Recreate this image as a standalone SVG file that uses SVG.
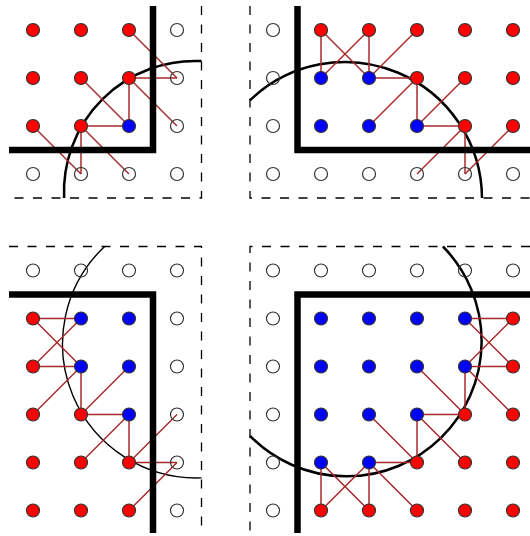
<svg xmlns="http://www.w3.org/2000/svg" width="530" height="536" viewBox="0 0 530 536">
<style>
.bg{fill:#fff}
.dash{fill:none;stroke:#000;stroke-width:1.3;stroke-dasharray:9 9.5}
.wall{fill:none;stroke:#000;stroke-width:6.5;stroke-linejoin:miter;stroke-linecap:butt}
.arc{fill:none;stroke:#000;stroke-width:2.5}
.arc.thin{stroke-width:1.4}
#connectors line{stroke:#a82828;stroke-width:1.5}
circle{stroke:#333;stroke-width:1.2}
.r circle{fill:#f00}
.b circle{fill:#00f}
.o circle{fill:none}
</style>
<rect class="bg" width="530" height="536"/>
<!-- dashed boundaries -->
<path class="dash" d="M201.5,6 V198 H9"/>
<path class="dash" d="M250,6 V198 H530"/>
<path class="dash" d="M9,246.5 H201.5 V533"/>
<path class="dash" d="M530,246.5 H250 V533"/>
<!-- arcs -->
<path class="arc" d="M64.1,198 A131,131 0 0 1 201.5,61.1"/>
<path class="arc" d="M250,100.3 A137,137 0 0 1 482,198"/>
<path class="arc thin" d="M104.6,246.5 A134,134 0 0 0 201.5,477.9"/>
<path class="arc" d="M442.9,246.5 A135,135 0 1 1 250,435.9"/>
<g id="connectors">
<line x1="129" y1="30" x2="177" y2="78"/>
<line x1="129" y1="78" x2="177" y2="78"/>
<line x1="129" y1="78" x2="177" y2="126"/>
<line x1="129" y1="78" x2="129" y2="126"/>
<line x1="81" y1="78" x2="129" y2="126"/>
<line x1="81" y1="126" x2="129" y2="126"/>
<line x1="33" y1="126" x2="81" y2="174"/>
<line x1="81" y1="126" x2="81" y2="174"/>
<line x1="81" y1="126" x2="129" y2="174"/>
<line x1="321" y1="30" x2="321" y2="78"/>
<line x1="321" y1="30" x2="369" y2="78"/>
<line x1="369" y1="30" x2="321" y2="78"/>
<line x1="369" y1="30" x2="369" y2="78"/>
<line x1="417" y1="30" x2="369" y2="78"/>
<line x1="369" y1="78" x2="417" y2="78"/>
<line x1="417" y1="78" x2="369" y2="126"/>
<line x1="417" y1="78" x2="417" y2="126"/>
<line x1="465" y1="78" x2="417" y2="126"/>
<line x1="417" y1="126" x2="465" y2="126"/>
<line x1="465" y1="126" x2="417" y2="174"/>
<line x1="465" y1="126" x2="465" y2="174"/>
<line x1="513" y1="126" x2="465" y2="174"/>
<line x1="33" y1="318.5" x2="81" y2="318.5"/>
<line x1="33" y1="318.5" x2="81" y2="366.5"/>
<line x1="33" y1="366.5" x2="81" y2="318.5"/>
<line x1="33" y1="366.5" x2="81" y2="366.5"/>
<line x1="33" y1="414.5" x2="81" y2="366.5"/>
<line x1="81" y1="366.5" x2="81" y2="414.5"/>
<line x1="81" y1="414.5" x2="129" y2="366.5"/>
<line x1="81" y1="414.5" x2="129" y2="414.5"/>
<line x1="81" y1="462.5" x2="129" y2="414.5"/>
<line x1="129" y1="414.5" x2="129" y2="462.5"/>
<line x1="129" y1="462.5" x2="177" y2="414.5"/>
<line x1="129" y1="462.5" x2="177" y2="462.5"/>
<line x1="129" y1="510.5" x2="177" y2="462.5"/>
<line x1="465" y1="318.5" x2="513" y2="318.5"/>
<line x1="465" y1="318.5" x2="513" y2="366.5"/>
<line x1="465" y1="366.5" x2="513" y2="318.5"/>
<line x1="465" y1="366.5" x2="513" y2="366.5"/>
<line x1="465" y1="366.5" x2="465" y2="414.5"/>
<line x1="465" y1="366.5" x2="513" y2="414.5"/>
<line x1="417" y1="366.5" x2="465" y2="414.5"/>
<line x1="417" y1="414.5" x2="465" y2="414.5"/>
<line x1="417" y1="414.5" x2="417" y2="462.5"/>
<line x1="417" y1="414.5" x2="465" y2="462.5"/>
<line x1="369" y1="414.5" x2="417" y2="462.5"/>
<line x1="369" y1="462.5" x2="417" y2="462.5"/>
<line x1="369" y1="462.5" x2="369" y2="510.5"/>
<line x1="369" y1="462.5" x2="321" y2="510.5"/>
<line x1="369" y1="462.5" x2="417" y2="510.5"/>
<line x1="321" y1="462.5" x2="321" y2="510.5"/>
<line x1="321" y1="462.5" x2="369" y2="510.5"/>
</g>
<!-- walls -->
<path class="wall" d="M9,150 H153 V6"/>
<path class="wall" d="M297.5,6 V150 H530"/>
<path class="wall" d="M9,294.5 H153 V533"/>
<path class="wall" d="M530,294.5 H297.5 V533"/>
<!-- Quadrant 1 nodes -->
<g id="a11" class="r"><circle cx="33" cy="30" r="6.5"/></g>
<g id="a12" class="r"><circle cx="81" cy="30" r="6.5"/></g>
<g id="a13" class="r"><circle cx="129" cy="30" r="6.5"/></g>
<g id="a14" class="o"><circle cx="177" cy="30" r="6.5"/></g>
<g id="a21" class="r"><circle cx="33" cy="78" r="6.5"/></g>
<g id="a22" class="r"><circle cx="81" cy="78" r="6.5"/></g>
<g id="a23" class="r"><circle cx="129" cy="78" r="6.5"/></g>
<g id="a24" class="o"><circle cx="177" cy="78" r="6.5"/></g>
<g id="a31" class="r"><circle cx="33" cy="126" r="6.5"/></g>
<g id="a32" class="r"><circle cx="81" cy="126" r="6.5"/></g>
<g id="a33" class="b"><circle cx="129" cy="126" r="6.5"/></g>
<g id="a34" class="o"><circle cx="177" cy="126" r="6.5"/></g>
<g id="a41" class="o"><circle cx="33" cy="174" r="6.5"/></g>
<g id="a42" class="o"><circle cx="81" cy="174" r="6.5"/></g>
<g id="a43" class="o"><circle cx="129" cy="174" r="6.5"/></g>
<g id="a44" class="o"><circle cx="177" cy="174" r="6.5"/></g>
<!-- Quadrant 2 nodes -->
<g id="b11" class="o"><circle cx="273" cy="30" r="6.5"/></g>
<g id="b12" class="r"><circle cx="321" cy="30" r="6.5"/></g>
<g id="b13" class="r"><circle cx="369" cy="30" r="6.5"/></g>
<g id="b14" class="r"><circle cx="417" cy="30" r="6.5"/></g>
<g id="b15" class="r"><circle cx="465" cy="30" r="6.5"/></g>
<g id="b16" class="r"><circle cx="513" cy="30" r="6.5"/></g>
<g id="b21" class="o"><circle cx="273" cy="78" r="6.5"/></g>
<g id="b22" class="b"><circle cx="321" cy="78" r="6.5"/></g>
<g id="b23" class="b"><circle cx="369" cy="78" r="6.5"/></g>
<g id="b24" class="r"><circle cx="417" cy="78" r="6.5"/></g>
<g id="b25" class="r"><circle cx="465" cy="78" r="6.5"/></g>
<g id="b26" class="r"><circle cx="513" cy="78" r="6.5"/></g>
<g id="b31" class="o"><circle cx="273" cy="126" r="6.5"/></g>
<g id="b32" class="b"><circle cx="321" cy="126" r="6.5"/></g>
<g id="b33" class="b"><circle cx="369" cy="126" r="6.5"/></g>
<g id="b34" class="b"><circle cx="417" cy="126" r="6.5"/></g>
<g id="b35" class="r"><circle cx="465" cy="126" r="6.5"/></g>
<g id="b36" class="r"><circle cx="513" cy="126" r="6.5"/></g>
<g id="b41" class="o"><circle cx="273" cy="174" r="6.5"/></g>
<g id="b42" class="o"><circle cx="321" cy="174" r="6.5"/></g>
<g id="b43" class="o"><circle cx="369" cy="174" r="6.5"/></g>
<g id="b44" class="o"><circle cx="417" cy="174" r="6.5"/></g>
<g id="b45" class="o"><circle cx="465" cy="174" r="6.5"/></g>
<g id="b46" class="o"><circle cx="513" cy="174" r="6.5"/></g>
<!-- Quadrant 3 nodes -->
<g id="c11" class="o"><circle cx="33" cy="270.5" r="6.5"/></g>
<g id="c12" class="o"><circle cx="81" cy="270.5" r="6.5"/></g>
<g id="c13" class="o"><circle cx="129" cy="270.5" r="6.5"/></g>
<g id="c14" class="o"><circle cx="177" cy="270.5" r="6.5"/></g>
<g id="c21" class="r"><circle cx="33" cy="318.5" r="6.5"/></g>
<g id="c22" class="b"><circle cx="81" cy="318.5" r="6.5"/></g>
<g id="c23" class="b"><circle cx="129" cy="318.5" r="6.5"/></g>
<g id="c24" class="o"><circle cx="177" cy="318.5" r="6.5"/></g>
<g id="c31" class="r"><circle cx="33" cy="366.5" r="6.5"/></g>
<g id="c32" class="b"><circle cx="81" cy="366.5" r="6.5"/></g>
<g id="c33" class="b"><circle cx="129" cy="366.5" r="6.5"/></g>
<g id="c34" class="o"><circle cx="177" cy="366.5" r="6.5"/></g>
<g id="c41" class="r"><circle cx="33" cy="414.5" r="6.5"/></g>
<g id="c42" class="r"><circle cx="81" cy="414.5" r="6.5"/></g>
<g id="c43" class="b"><circle cx="129" cy="414.5" r="6.5"/></g>
<g id="c44" class="o"><circle cx="177" cy="414.5" r="6.5"/></g>
<g id="c51" class="r"><circle cx="33" cy="462.5" r="6.5"/></g>
<g id="c52" class="r"><circle cx="81" cy="462.5" r="6.5"/></g>
<g id="c53" class="r"><circle cx="129" cy="462.5" r="6.5"/></g>
<g id="c54" class="o"><circle cx="177" cy="462.5" r="6.5"/></g>
<g id="c61" class="r"><circle cx="33" cy="510.5" r="6.5"/></g>
<g id="c62" class="r"><circle cx="81" cy="510.5" r="6.5"/></g>
<g id="c63" class="r"><circle cx="129" cy="510.5" r="6.5"/></g>
<g id="c64" class="o"><circle cx="177" cy="510.5" r="6.5"/></g>
<!-- Quadrant 4 nodes -->
<g id="d11" class="o"><circle cx="273" cy="270.5" r="6.5"/></g>
<g id="d12" class="o"><circle cx="321" cy="270.5" r="6.5"/></g>
<g id="d13" class="o"><circle cx="369" cy="270.5" r="6.5"/></g>
<g id="d14" class="o"><circle cx="417" cy="270.5" r="6.5"/></g>
<g id="d15" class="o"><circle cx="465" cy="270.5" r="6.5"/></g>
<g id="d16" class="o"><circle cx="513" cy="270.5" r="6.5"/></g>
<g id="d21" class="o"><circle cx="273" cy="318.5" r="6.5"/></g>
<g id="d22" class="b"><circle cx="321" cy="318.5" r="6.5"/></g>
<g id="d23" class="b"><circle cx="369" cy="318.5" r="6.5"/></g>
<g id="d24" class="b"><circle cx="417" cy="318.5" r="6.5"/></g>
<g id="d25" class="b"><circle cx="465" cy="318.5" r="6.5"/></g>
<g id="d26" class="r"><circle cx="513" cy="318.5" r="6.5"/></g>
<g id="d31" class="o"><circle cx="273" cy="366.5" r="6.5"/></g>
<g id="d32" class="b"><circle cx="321" cy="366.5" r="6.5"/></g>
<g id="d33" class="b"><circle cx="369" cy="366.5" r="6.5"/></g>
<g id="d34" class="b"><circle cx="417" cy="366.5" r="6.5"/></g>
<g id="d35" class="b"><circle cx="465" cy="366.5" r="6.5"/></g>
<g id="d36" class="r"><circle cx="513" cy="366.5" r="6.5"/></g>
<g id="d41" class="o"><circle cx="273" cy="414.5" r="6.5"/></g>
<g id="d42" class="b"><circle cx="321" cy="414.5" r="6.5"/></g>
<g id="d43" class="b"><circle cx="369" cy="414.5" r="6.5"/></g>
<g id="d44" class="b"><circle cx="417" cy="414.5" r="6.5"/></g>
<g id="d45" class="r"><circle cx="465" cy="414.5" r="6.5"/></g>
<g id="d46" class="r"><circle cx="513" cy="414.5" r="6.5"/></g>
<g id="d51" class="o"><circle cx="273" cy="462.5" r="6.5"/></g>
<g id="d52" class="b"><circle cx="321" cy="462.5" r="6.5"/></g>
<g id="d53" class="b"><circle cx="369" cy="462.5" r="6.5"/></g>
<g id="d54" class="r"><circle cx="417" cy="462.5" r="6.5"/></g>
<g id="d55" class="r"><circle cx="465" cy="462.5" r="6.5"/></g>
<g id="d56" class="r"><circle cx="513" cy="462.5" r="6.5"/></g>
<g id="d61" class="o"><circle cx="273" cy="510.5" r="6.5"/></g>
<g id="d62" class="r"><circle cx="321" cy="510.5" r="6.5"/></g>
<g id="d63" class="r"><circle cx="369" cy="510.5" r="6.5"/></g>
<g id="d64" class="r"><circle cx="417" cy="510.5" r="6.5"/></g>
<g id="d65" class="r"><circle cx="465" cy="510.5" r="6.5"/></g>
<g id="d66" class="r"><circle cx="513" cy="510.5" r="6.5"/></g>
</svg>
